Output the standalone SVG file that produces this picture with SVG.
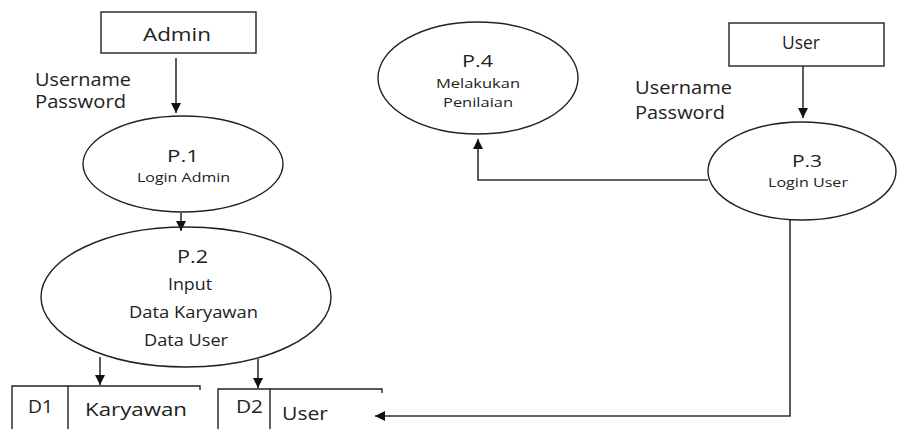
<svg xmlns="http://www.w3.org/2000/svg" width="898" height="429" viewBox="0 0 898 429">
<style>
.shape{fill:none;stroke:#222;stroke-width:1.4}
.box{fill:#fff;stroke:#222;stroke-width:1.4}
.conn{fill:none;stroke:#333;stroke-width:1.6}
text{font-family:"Open Sans","Noto Sans",sans-serif;fill:#222}
.big{font-size:18px}
.mid{font-size:16px}
.sm{font-size:12px}
</style>
<defs>
<marker id="arr" viewBox="0 0 10 10" refX="10" refY="5" markerWidth="10" markerHeight="10" markerUnits="userSpaceOnUse" orient="auto">
<path d="M0,0 L10,5 L0,10 Z" fill="#111"/>
</marker>
</defs>
<rect width="898" height="429" fill="#fff"/>
<g id="connectors">
<line class="conn" x1="176" y1="58" x2="176" y2="113" marker-end="url(#arr)"/>
<line class="conn" x1="181" y1="213" x2="181" y2="231" marker-end="url(#arr)"/>
<line class="conn" x1="100" y1="357" x2="100" y2="385" marker-end="url(#arr)"/>
<line class="conn" x1="258" y1="359" x2="258" y2="388" marker-end="url(#arr)"/>
<line class="conn" x1="803" y1="66" x2="803" y2="118" marker-end="url(#arr)"/>
<polyline class="conn" points="708,180 478,180 478,139" marker-end="url(#arr)"/>
<polyline class="conn" points="790,220 790,416 375,416" marker-end="url(#arr)"/>
</g>
<g id="admin">
<rect class="box" x="101" y="12" width="155" height="41"/>
<text class="big" x="143" y="41" textLength="68" lengthAdjust="spacingAndGlyphs">Admin</text>
</g>
<g id="label-admin">
<text class="big" x="35" y="86" textLength="96" lengthAdjust="spacingAndGlyphs">Username</text>
<text class="big" x="35" y="108" textLength="91" lengthAdjust="spacingAndGlyphs">Password</text>
</g>
<g id="p1">
<ellipse class="shape" cx="183" cy="164" rx="100" ry="48"/>
<text class="mid" x="167" y="162" textLength="32" lengthAdjust="spacingAndGlyphs">P.1</text>
<text class="sm" x="137" y="182" textLength="93" lengthAdjust="spacingAndGlyphs">Login Admin</text>
</g>
<g id="p2">
<ellipse class="shape" cx="186" cy="297" rx="145" ry="70"/>
<text class="big" x="177" y="263" textLength="31" lengthAdjust="spacingAndGlyphs">P.2</text>
<text class="mid" x="168" y="290" textLength="44" lengthAdjust="spacingAndGlyphs">Input</text>
<text class="mid" x="129" y="318" textLength="129" lengthAdjust="spacingAndGlyphs">Data Karyawan</text>
<text class="mid" x="144" y="346" textLength="84" lengthAdjust="spacingAndGlyphs">Data User</text>
</g>
<g id="d1">
<polyline class="shape" points="12,429 12,386 200,386 200,390"/>
<line class="shape" x1="68" y1="386" x2="68" y2="429"/>
<text class="big" x="28" y="413" textLength="25" lengthAdjust="spacingAndGlyphs">D1</text>
<text class="big" x="85" y="416" textLength="102" lengthAdjust="spacingAndGlyphs">Karyawan</text>
</g>
<g id="d2">
<polyline class="shape" points="218,429 218,389 382,389 382,393"/>
<line class="shape" x1="270" y1="389" x2="270" y2="429"/>
<text class="big" x="236" y="413" textLength="27" lengthAdjust="spacingAndGlyphs">D2</text>
<text class="big" x="282" y="420" textLength="46" lengthAdjust="spacingAndGlyphs">User</text>
</g>
<g id="p4">
<ellipse class="shape" cx="478" cy="78" rx="100" ry="56"/>
<text class="mid" x="462" y="67" textLength="31" lengthAdjust="spacingAndGlyphs">P.4</text>
<text class="sm" x="436" y="88" textLength="84" lengthAdjust="spacingAndGlyphs">Melakukan</text>
<text class="sm" x="443" y="107" textLength="70" lengthAdjust="spacingAndGlyphs">Penilaian</text>
</g>
<g id="user">
<rect class="box" x="729" y="23" width="155" height="43"/>
<text class="big" x="782" y="49" textLength="38" lengthAdjust="spacingAndGlyphs">User</text>
</g>
<g id="label-user">
<text class="big" x="635" y="94" textLength="97" lengthAdjust="spacingAndGlyphs">Username</text>
<text class="big" x="635" y="119" textLength="90" lengthAdjust="spacingAndGlyphs">Password</text>
</g>
<g id="p3">
<ellipse class="shape" cx="802" cy="171" rx="94" ry="49"/>
<text class="mid" x="792" y="167" textLength="30" lengthAdjust="spacingAndGlyphs">P.3</text>
<text class="sm" x="768" y="187" textLength="80" lengthAdjust="spacingAndGlyphs">Login User</text>
</g>
</svg>
